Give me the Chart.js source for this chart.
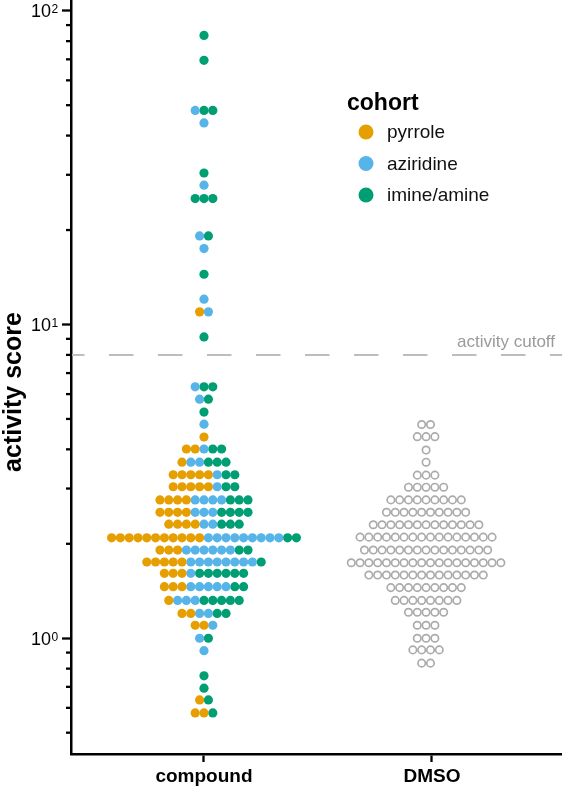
<!DOCTYPE html>
<html>
<head>
<meta charset="utf-8">
<script src="https://cdn.jsdelivr.net/npm/chart.js@4.4.1/dist/chart.umd.min.js"></script>
<style>
    html, body { margin: 0; padding: 0; background: #fff; }
    #wrap { width: 562px; height: 798px; }
</style>
</head>
<body>
<div id="wrap"><canvas id="swarm"></canvas></div>
<script>
const categories = ["compound", "DMSO"];
const cohorts = ["pyrrole", "aziridine", "imine/amine"];
const cohortColors = ["#e69f00", "#56b4e9", "#009e73"];

// compound rows, top to bottom: score of the row and dots per cohort
const compoundScores = [83.4, 69.5, 48.1, 43.9, 30.4, 27.8, 25.2, 19.15, 17.46, 14.46, 12.04, 10.97, 9.13,
    6.33, 5.78, 5.26, 4.81, 4.38, 4.01, 3.64, 3.32, 3.04, 2.76, 2.52, 2.31, 2.09, 1.91, 1.75, 1.61, 1.46,
    1.32, 1.20, 1.10, 1.00, 0.913, 0.759, 0.693, 0.636, 0.578];
const pyrroleCounts = [0, 0, 0, 0, 0, 0, 0, 0, 0, 0, 0, 1, 0,
    0, 0, 0, 0, 1, 2, 1, 5, 5, 4, 4, 4, 11, 3, 5, 3, 3,
    1, 2, 2, 0, 0, 0, 0, 1, 2];
const aziridineCounts = [0, 0, 1, 1, 0, 1, 0, 1, 1, 0, 1, 1, 0,
    1, 1, 0, 1, 0, 1, 2, 1, 1, 4, 3, 2, 9, 6, 8, 1, 5,
    3, 2, 1, 1, 1, 0, 0, 0, 0];
const imineCounts = [1, 1, 2, 0, 1, 0, 3, 1, 0, 1, 0, 0, 1,
    2, 1, 1, 0, 0, 2, 3, 2, 2, 3, 4, 3, 2, 2, 1, 6, 2,
    5, 2, 0, 1, 0, 1, 1, 1, 1];

// DMSO rows, top to bottom
const dmsoScores = [4.80, 4.39, 3.98, 3.64, 3.31, 3.03, 2.76, 2.52, 2.30, 2.10, 1.91, 1.74, 1.59, 1.45,
    1.32, 1.21, 1.10, 1.00, 0.918, 0.833];
const dmsoCounts = [2, 3, 1, 1, 3, 5, 9, 10, 13, 16, 15, 18, 14, 9, 8, 5, 3, 3, 4, 2];

const yTicks = [0.5, 0.6, 0.7, 0.8, 0.9, 1, 2, 3, 4, 5, 6, 7, 8, 9, 10, 20, 30, 40, 50, 60, 70, 80, 90, 100];
const cutoff = 8;

const dotStep = 0.0386;
const dmsoCenter = 1.974;
const font = "'Liberation Sans', Arial, sans-serif";
const isMajor = v => Math.abs(Math.log10(v) - Math.round(Math.log10(v))) < 1e-9;

const groups = [[], [], []];
compoundScores.forEach((score, r) => {
    const counts = [pyrroleCounts[r], aziridineCounts[r], imineCounts[r]];
    const n = counts[0] + counts[1] + counts[2];
    let k = 0;
    counts.forEach((c, g) => {
        for (let j = 0; j < c; j++) {
            groups[g].push({ x: 1 + (k - (n - 1) / 2) * dotStep, y: score });
            k++;
        }
    });
});
const dmsoPoints = [];
dmsoScores.forEach((score, r) => {
    const n = dmsoCounts[r];
    for (let k = 0; k < n; k++) dmsoPoints.push({ x: dmsoCenter + (k - (n - 1) / 2) * dotStep, y: score });
});

const extras = {
    id: "extras",
    beforeDatasetsDraw(chart) {
        const { ctx, chartArea, scales } = chart;
        const y = scales.y.getPixelForValue(cutoff);
        ctx.save();
        ctx.strokeStyle = "#bdbdbd";
        ctx.lineWidth = 2;
        ctx.setLineDash([24.5, 24.5]);
        ctx.lineDashOffset = 12;
        ctx.beginPath();
        ctx.moveTo(chartArea.left + 1, y);
        ctx.lineTo(chartArea.right, y);
        ctx.stroke();
        ctx.setLineDash([]);
        ctx.fillStyle = "#9a9a9a";
        ctx.font = "17px " + font;
        ctx.textAlign = "right";
        ctx.textBaseline = "alphabetic";
        ctx.fillText("activity cutoff", 555, y - 8);
        ctx.restore();
    },
    afterDraw(chart) {
        const { ctx, scales } = chart;
        const ys = scales.y;
        ctx.save();
        ctx.strokeStyle = "#000";
        ctx.fillStyle = "#000";
        ctx.lineWidth = 2.3;
        yTicks.forEach(v => {
            const p = ys.getPixelForValue(v);
            if (isMajor(v)) {
                // tick label 10^n
                ctx.textBaseline = "alphabetic";
                ctx.textAlign = "right";
                ctx.font = "18px " + font;
                ctx.fillText("10", 51, p + 6.5);
                ctx.textAlign = "left";
                ctx.font = "12px " + font;
                ctx.fillText(String(Math.round(Math.log10(v))), 51.5, p + 2.5);
            } else {
                ctx.beginPath();
                ctx.moveTo(ys.right - 5, p);
                ctx.lineTo(ys.right, p);
                ctx.stroke();
            }
        });
        // axis title
        ctx.font = "bold 25px " + font;
        ctx.translate(21, 392);
        ctx.rotate(-Math.PI / 2);
        ctx.textAlign = "center";
        ctx.textBaseline = "alphabetic";
        ctx.fillText("activity score", 0, 0);
        ctx.restore();
        // legend
        ctx.save();
        ctx.fillStyle = "#000";
        ctx.font = "bold 23px " + font;
        ctx.textBaseline = "middle";
        ctx.fillText("cohort", 347, 104);
        ctx.font = "19px " + font;
        cohorts.forEach((name, i) => {
            const cy = 132 + i * 31.5;
            ctx.fillStyle = cohortColors[i];
            ctx.beginPath();
            ctx.arc(366, cy, 7.5, 0, Math.PI * 2);
            ctx.fill();
            ctx.fillStyle = "#111";
            ctx.fillText(name, 387, cy + 1);
        });
        ctx.restore();
    }
};

new Chart(document.getElementById("swarm"), {
    type: "scatter",
    data: {
        datasets: [
            ...cohorts.map((name, i) => ({
                label: name,
                data: groups[i],
                backgroundColor: cohortColors[i],
                borderWidth: 0,
                pointRadius: 4.6,
                pointHoverRadius: 4.6
            })),
            {
                label: "DMSO",
                data: dmsoPoints,
                backgroundColor: "#ffffff",
                borderColor: "#ababab",
                borderWidth: 1.7,
                pointRadius: 3.7,
                pointHoverRadius: 3.7
            }
        ]
    },
    options: {
        responsive: true,
        maintainAspectRatio: false,
        animation: false,
        layout: { padding: 0, autoPadding: false },
        plugins: { legend: { display: false }, tooltip: { enabled: false } },
        scales: {
            x: {
                type: "linear",
                min: 0.4167,
                max: 2.5702,
                afterBuildTicks: scale => { scale.ticks = [{ value: 1 }, { value: 2 }]; },
                afterFit: scale => { scale.height = 44; },
                grid: { drawOnChartArea: false, tickLength: 8, tickWidth: 2.3, tickColor: "#000" },
                border: { color: "#000", width: 2.5 },
                ticks: {
                    padding: 3,
                    color: "#000",
                    font: { family: font, size: 19, weight: "bold" },
                    callback: v => categories[v - 1]
                }
            },
            y: {
                type: "logarithmic",
                min: 0.4276,
                max: 108.2,
                afterBuildTicks: scale => { scale.ticks = yTicks.map(v => ({ value: v })); },
                afterFit: scale => { scale.width = 71; },
                grid: {
                    drawOnChartArea: false,
                    tickLength: 9,
                    tickWidth: 2.3,
                    tickColor: c => (c.tick && isMajor(c.tick.value)) ? "#000" : "rgba(0,0,0,0)"
                },
                border: { color: "#000", width: 2.5 },
                ticks: { display: false }
            }
        }
    },
    plugins: [extras]
});
</script>
</body>
</html>
